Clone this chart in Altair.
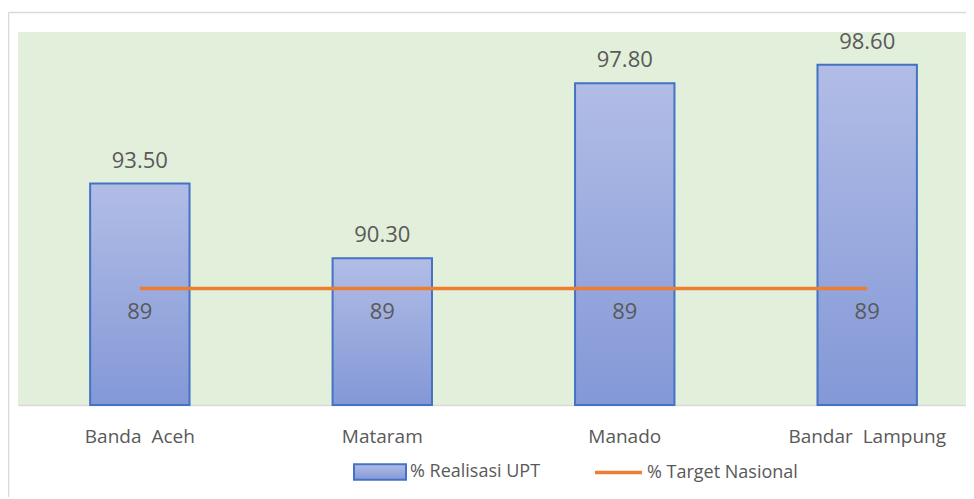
import altair as alt
import pandas as pd

cities = ["Banda Aceh", "Mataram", "Manado", "Bandar Lampung"]
realisasi = [93.50, 90.30, 97.80, 98.60]
target = [89, 89, 89, 89]
series_bar = "% Realisasi UPT"
series_line = "% Target Nasional"
y_min, y_max = 84, 100

df = pd.DataFrame({
    "city": cities,
    "realisasi": realisasi,
    "target": target,
    "s_bar": [series_bar] * len(cities),
    "s_line": [series_line] * len(cities),
})
frame = pd.DataFrame({"k": [0]})

W, H = 948, 373
FONT = "Open Sans"
GREY = "#595959"

x_scale = alt.Scale(paddingInner=0.59, paddingOuter=0.25, align=0.595)
x_axis = alt.Axis(
    title=None, labelAngle=0, ticks=False, labelPadding=22, domainColor="#d9d9d9",
    domainWidth=1.5, labelColor=GREY, labelFontSize=19, labelFont=FONT, grid=False,
    labelExpr="replace(datum.label, ' ', '\u00a0\u00a0')",
)
x_enc = alt.X("city:N", sort=cities, scale=x_scale, axis=x_axis)
y_scale = alt.Scale(domain=[y_min, y_max], nice=False, zero=False)

gradient = alt.LinearGradient(
    gradient="linear", x1=0, y1=0, x2=0, y2=1,
    stops=[alt.GradientStop(color="#b2bde6", offset=0),
           alt.GradientStop(color="#8398d7", offset=1)],
)

bars = alt.Chart(df).mark_bar(fill=gradient, strokeWidth=2, strokeJoin="miter").encode(
    x=x_enc,
    y=alt.Y("realisasi:Q", scale=y_scale, axis=None),
    y2=alt.datum(y_min),
    stroke=alt.Stroke(
        "s_bar:N",
        scale=alt.Scale(domain=[series_bar], range=["#4472c4"]),
        legend=alt.Legend(
            title=None, orient="none", legendX=335, legendY=413,
            symbolType="M-1,-0.3H1V0.3H-1Z", symbolSize=2704,
            symbolFillColor="#9aaadb", symbolStrokeWidth=2,
            labelFontSize=18, labelColor=GREY, labelFont=FONT, labelOffset=3, padding=0,
        ),
    ),
)

line = alt.Chart(df).mark_line(strokeWidth=3.5).encode(
    x=x_enc,
    y=alt.Y("target:Q", scale=y_scale, axis=None),
    stroke=alt.Stroke(
        "s_line:N",
        scale=alt.Scale(domain=[series_line], range=["#ed7d31"]),
        legend=alt.Legend(
            title=None, orient="none", legendX=575, legendY=415,
            symbolType="M-1,0H1", symbolSize=2209, symbolStrokeWidth=3.5,
            labelFontSize=18, labelColor=GREY, labelFont=FONT, labelOffset=3, padding=0,
        ),
    ),
)

val_labels = alt.Chart(df).mark_text(
    font=FONT, fontSize=22, color=GREY, baseline="alphabetic", dy=-16
).encode(
    x=x_enc,
    y=alt.Y("realisasi:Q", scale=y_scale, axis=None),
    text=alt.Text("realisasi:Q", format=".2f"),
)

tgt_labels = alt.Chart(df).mark_text(
    font=FONT, fontSize=22, color=GREY, baseline="middle", dy=24
).encode(
    x=x_enc,
    y=alt.Y("target:Q", scale=y_scale, axis=None),
    text=alt.Text("target:Q", format=".0f"),
)

border_top = alt.Chart(frame).mark_rule(color="#d9d9d9", strokeWidth=1.5).encode(
    x=alt.value(-9.5), x2=alt.value(W + 20), y=alt.value(-19.5)
)
border_left = alt.Chart(frame).mark_rule(color="#d9d9d9", strokeWidth=1.5).encode(
    x=alt.value(-9.5), y=alt.value(-19.5), y2=alt.value(H + 200)
)

chart = (
    alt.layer(bars, line, val_labels, tgt_labels, border_top, border_left)
    .resolve_scale(stroke="independent")
    .resolve_legend(stroke="independent")
    .properties(
        width=W, height=H,
        padding={"left": 10, "top": 24, "right": 0, "bottom": 92},
        autosize=alt.AutoSizeParams(type="none"),
        background="white",
    )
    .configure_view(fill="#e2efda", strokeWidth=0)
)

chart.save("out.html", embed_options={"renderer": "svg", "actions": False})
